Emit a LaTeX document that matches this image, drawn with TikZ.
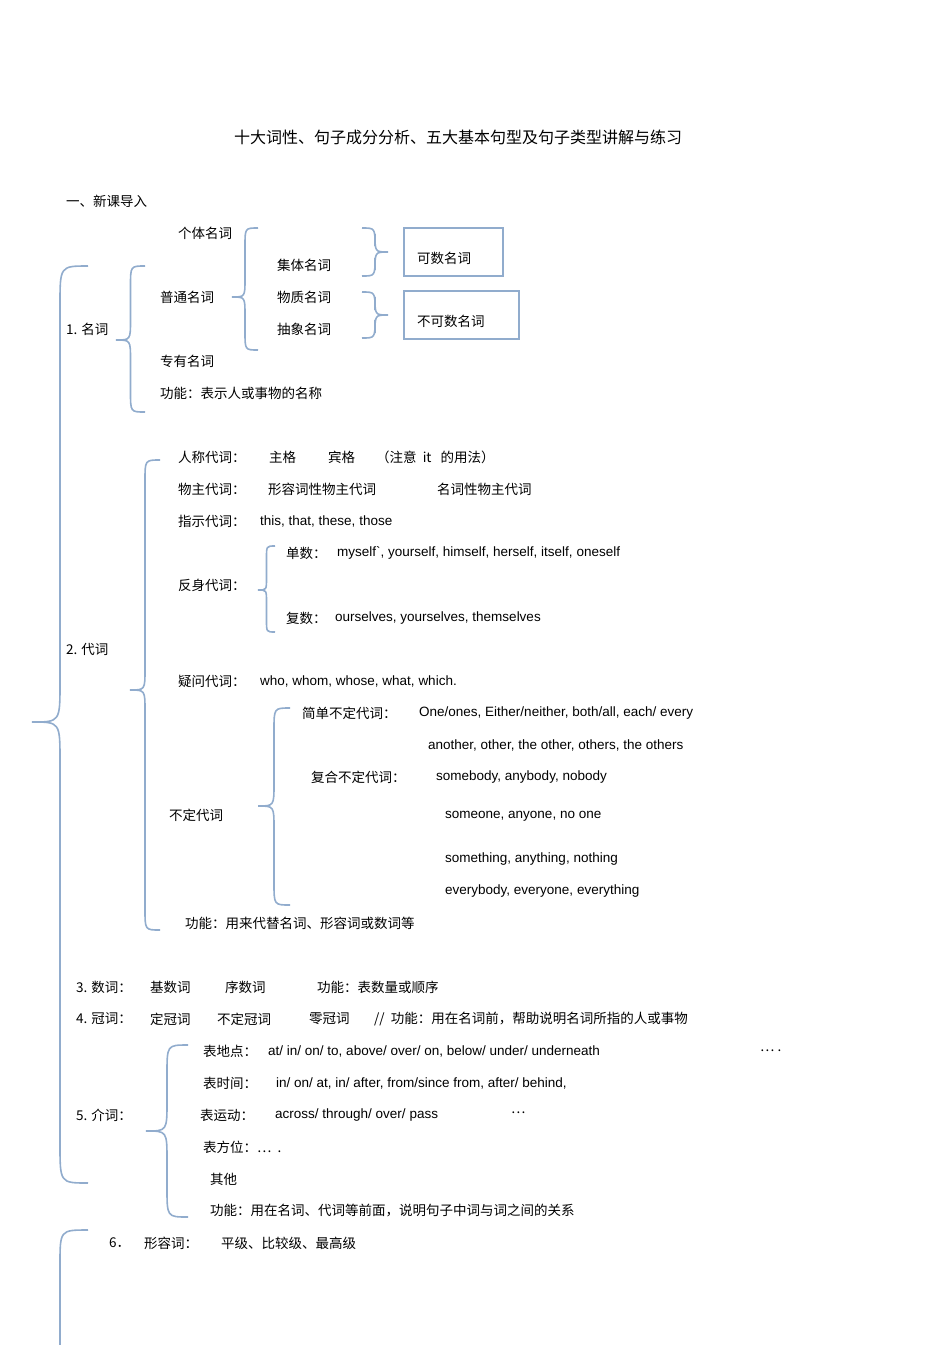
\documentclass[tikz,border=0pt]{standalone}
\usepackage{fontspec}
\setmainfont{Liberation Sans}
\newfontfamily\cjk{Noto Sans CJK SC}
\newfontfamily\en{Liberation Sans}
\definecolor{bracec}{RGB}{145,172,205}
\newcommand{\mybrace}[5]{%
 \pgfmathsetmacro\xm{(#1+#4)/2}\pgfmathsetmacro\rr{abs(#1-#4)*0.7}%
 \draw[brc] (#1,#2) .. controls (\xm,#2) .. (\xm,#2+\rr) -- (\xm,#5-\rr) .. controls (\xm,#5) .. (#4,#5) .. controls (\xm,#5) .. (\xm,#5+\rr) -- (\xm,#3-\rr) .. controls (\xm,#3) .. (#1,#3);}
\begin{document}
\begin{tikzpicture}[x=1pt,y=-1pt,
 t/.style={anchor=west,inner sep=0pt,font=\cjk\fontsize{13.5}{15}\selectfont},
 e/.style={anchor=west,inner sep=0pt,font=\en\fontsize{13.5}{15}\selectfont},
 brc/.style={draw=bracec,line width=1.6pt},
 bx/.style={draw=bracec,line width=1.6pt}]
\useasboundingbox (0,0) rectangle (950,1345);
\node[anchor=center,inner sep=0pt,font=\cjk\fontsize{16}{18}\selectfont] (title) at (458,137) {十大词性、句子成分分析、五大基本句型及句子类型讲解与练习};
\node[t] (intro) at (66,201) {一、新课导入};
\node[t] (gt) at (178,233) {个体名词};
\node[t] (jt) at (277,265) {集体名词};
\node[t] (wz) at (277,297) {物质名词};
\node[t] (cx) at (277,329) {抽象名词};
\node[t] (pt) at (160,297) {普通名词};
\node[t] (n1) at (66,329) {1. 名词};
\node[t] (zy) at (160,361) {专有名词};
\node[t] (gn1) at (160,393) {功能：表示人或事物的名称};
\draw[bx] (404,228) rectangle (503,276);
\draw[bx] (404,291) rectangle (519,339);
\node[t] (ks) at (417,258) {可数名词};
\node[t] (bks) at (417,321) {不可数名词};
\mybrace{258}{228}{350}{232}{297}
\mybrace{362}{228}{276}{388}{252}
\mybrace{362}{292}{338}{388}{315}
\mybrace{145}{266}{412}{116}{340}
\mybrace{88}{266}{1183}{32}{722}
\node[t] (n2) at (66,649) {2. 代词};
\mybrace{160}{460}{930}{130}{690}
\node[t] (rc) at (178,457) {人称代词：};
\node[t] (zg) at (269,457) {主格};
\node[t] (bg) at (328,457) {宾格};
\node[t] (zy2) at (376,457) {（注意\ \ it\ \ \ 的用法）};
\node[t] (wzd) at (178,489) {物主代词：};
\node[t] (xr) at (268,489) {形容词性物主代词};
\node[t] (mc) at (437,489) {名词性物主代词};
\node[t] (zs) at (178,521) {指示代词：};
\node[e] (zse) at (260,521) {this, that, these, those};
\node[t] (ds) at (286,553) {单数：};
\node[e] (dse) at (337,553) {myself`, yourself, himself, herself, itself, oneself};
\node[t] (fs) at (178,585) {反身代词：};
\mybrace{275}{546}{632}{258}{590}
\node[t] (fus) at (286,618) {复数：};
\node[e] (fse) at (335,618) {ourselves, yourselves, themselves};
\node[t] (yw) at (178,681) {疑问代词：};
\node[e] (ywe) at (260,681) {who, whom, whose, what, which.};
\node[t] (jd) at (302,713) {简单不定代词：};
\node[e] (jde) at (419,713) {One/ones, Either/neither, both/all, each/ every};
\node[e] (an) at (428,745) {another, other, the other, others, the others};
\node[t] (fh) at (311,777) {复合不定代词：};
\node[e] (fhe) at (436,777) {somebody, anybody, nobody};
\node[t] (bd) at (169,815) {不定代词};
\mybrace{290}{708}{905}{258}{806}
\node[e] (so) at (445,816) {someone, anyone, no one};
\node[e] (st) at (445,859) {something, anything, nothing};
\node[e] (eb) at (445,891) {everybody, everyone, everything};
\node[t] (gn2) at (185,923) {功能：用来代替名词、形容词或数词等};
\node[t] (n3) at (76,987) {3. 数词：};
\node[t] (js) at (150,987) {基数词};
\node[t] (xs) at (225,987) {序数词};
\node[t] (gn3) at (317,987) {功能：表数量或顺序};
\node[t] (n4) at (76,1019) {4. 冠词：};
\node[t] (dg) at (150,1019) {定冠词};
\node[t] (bdg) at (217,1019) {不定冠词};
\node[t] (lg) at (309,1019) {零冠词};
\node[t] (gn4) at (374,1019) {//\ \ 功能：用在名词前，帮助说明名词所指的人或事物};
\node[t] (dd) at (203,1051) {表地点：};
\node[e] (dde) at (268,1051) {at/ in/ on/ to, above/ over/ on, below/ under/ underneath};
\node[t] (ddd) at (760,1051) {⋯ .};
\node[t] (sj) at (203,1083) {表时间：};
\node[e] (sje) at (276,1083) {in/ on/ at, in/ after, from/since from, after/ behind,};
\node[t] (n5) at (76,1115) {5. 介词：};
\node[t] (yd) at (200,1115) {表运动：};
\node[e] (yde) at (275,1115) {across/ through/ over/ pass};
\node[t] (ydd) at (511,1113) {⋯};
\node[t] (fw) at (203,1147) {表方位：⋯\ \ .};
\node[t] (qt) at (210,1179) {其他};
\node[t] (gn5) at (210,1211) {功能：用在名词、代词等前面，说明句子中词与词之间的关系};
\mybrace{188}{1045}{1217}{146}{1131}
\node[t] (n6) at (109,1243) {6．};
\node[t] (xrc) at (144,1243) {形容词：};
\node[t] (pj) at (221,1243) {平级、比较级、最高级};
\coordinate (b6a) at (88,1230);
\coordinate (b6b) at (60,1345);
\draw[brc] (b6a) .. controls (60,1230) .. (60,1265) -- (b6b);
\end{tikzpicture}
\end{document}
